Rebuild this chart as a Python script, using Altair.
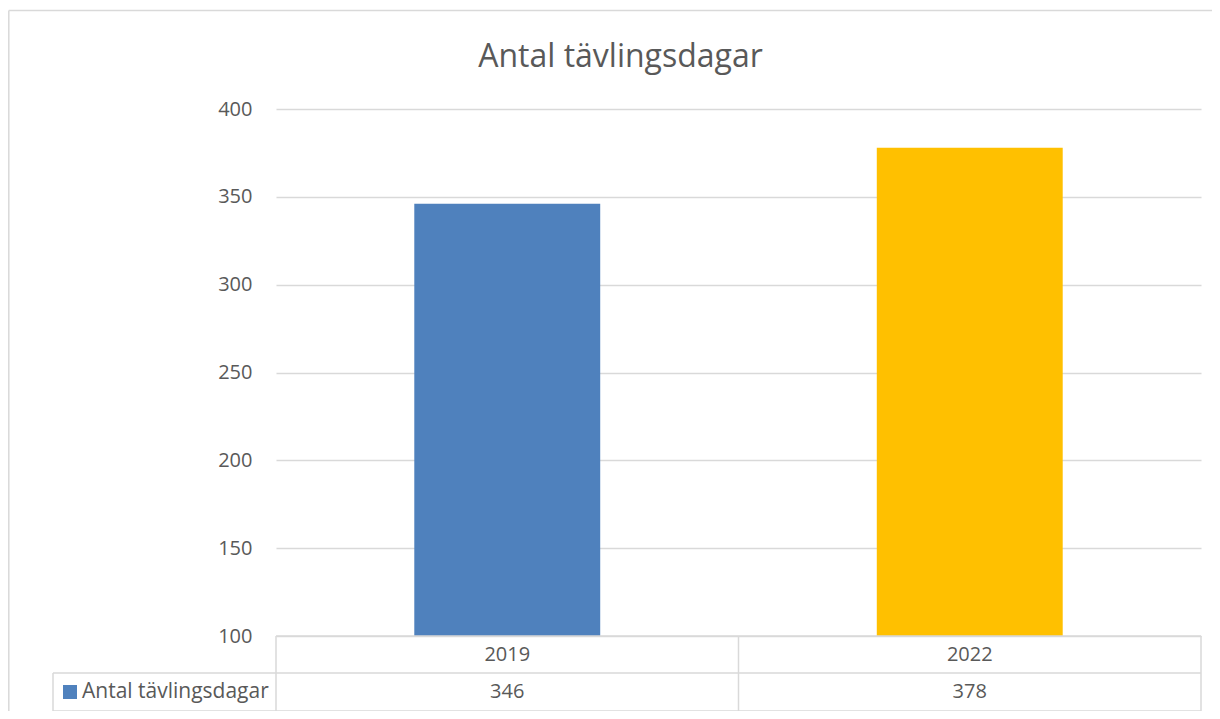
import altair as alt
import pandas as pd

years = ["2019", "2022"]
values = [346, 378]
colors = ["#4F81BD", "#FFC000"]
series_name = "Antal tävlingsdagar"
title_text = "Antal tävlingsdagar"
y_ticks = [100, 150, 200, 250, 300, 350, 400]

W, H = 925, 527
FONT = "Open Sans"
TXT = "#595959"
GRID = "#d9d9d9"

df = pd.DataFrame({"year": years, "value": values})

xenc = alt.X("year:N", sort=years,
             scale=alt.Scale(paddingInner=0, paddingOuter=0),
             axis=None)
yscale = alt.Scale(domain=[100, 400], zero=False, nice=False)

base = alt.Chart(df)

bars = base.mark_bar(width=alt.RelativeBandSize(0.402)).encode(
    x=xenc,
    y=alt.Y("value:Q", scale=yscale,
            axis=alt.Axis(values=y_ticks, title=None, domain=False, ticks=False,
                          grid=True, gridColor=GRID, gridWidth=1.3,
                          labelFont=FONT, labelFontSize=20, labelColor=TXT,
                          labelPadding=24)),
    y2=alt.datum(100),
    color=alt.Color("year:N", scale=alt.Scale(domain=years, range=colors), legend=None),
)

header = base.mark_text(font=FONT, fontSize=20, color=TXT, baseline="middle").encode(
    x=xenc, y=alt.value(H + 19), text="year:N")

vals = base.mark_text(font=FONT, fontSize=20, color=TXT, baseline="middle").encode(
    x=xenc, y=alt.value(H + 56), text="value:Q")

# table grid lines (decoration)
hlines = pd.DataFrame({"x0": [0, -223, -223], "yy": [H, H + 37, H + 75]})
hrule = alt.Chart(hlines).mark_rule(color=GRID, strokeWidth=1.5).encode(
    x=alt.X("x0:Q", scale=None), x2=alt.value(W), y=alt.Y("yy:Q", scale=None))

vlines = pd.DataFrame({"xx": [0, W / 2, W, -223], "y0": [H, H, H, H + 37]})
vrule = alt.Chart(vlines).mark_rule(color=GRID, strokeWidth=1.5).encode(
    x=alt.X("xx:Q", scale=None), y=alt.Y("y0:Q", scale=None), y2=alt.value(H + 75))

swatch = alt.Chart(pd.DataFrame({"s": [series_name]})).mark_square(
    size=196, color=colors[0], opacity=1).encode(
    x=alt.value(-206), y=alt.value(H + 56))
swatch_txt = alt.Chart(pd.DataFrame({"s": [series_name]})).mark_text(
    font=FONT, fontSize=21, color=TXT, align="left", baseline="middle").encode(
    x=alt.value(-194), y=alt.value(H + 56), text="s:N")

title = alt.Chart(pd.DataFrame({"t": [title_text]})).mark_text(
    font=FONT, fontSize=32, color=TXT, align="center", baseline="alphabetic").encode(
    x=alt.value(344.5), y=alt.value(-42), text="t:N")

# outer chart-area border (top and left edges only are visible)
border_top = alt.Chart(pd.DataFrame({"b": [1]})).mark_rule(
    color=GRID, strokeWidth=1.5).encode(
    x=alt.value(-267.2), x2=alt.value(W + 11), y=alt.value(-98.5))
border_left = alt.Chart(pd.DataFrame({"b": [1]})).mark_rule(
    color=GRID, strokeWidth=1.5).encode(
    x=alt.value(-267.2), y=alt.value(-98.5), y2=alt.value(H + 75))

chart = alt.layer(border_top, border_left, bars, hrule, vrule, header, vals,
                  swatch, swatch_txt, title).properties(
    width=W, height=H,
    autosize=alt.AutoSizeParams(type="none"),
    padding={"left": 268, "top": 101, "right": 11, "bottom": 75},
).configure_view(stroke=None)

chart.save("out.html", embed_options={"renderer": "svg", "actions": False})
